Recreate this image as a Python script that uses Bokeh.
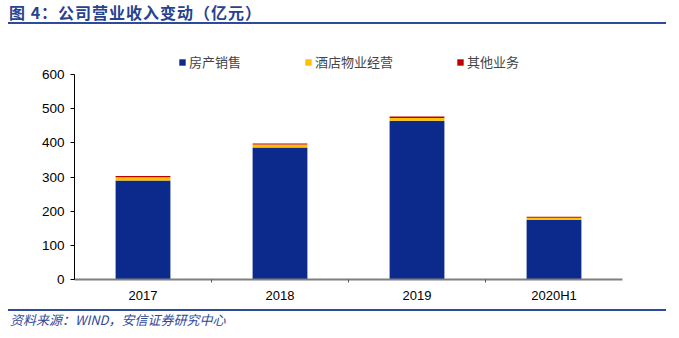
from bokeh.plotting import figure
from bokeh.models import (FixedTicker, LinearAxis, Legend, LegendItem, Range1d,
                          ColumnDataSource, Div)
from bokeh.layouts import column
from bokeh.embed import file_html
from bokeh.resources import INLINE

years = ["2017", "2018", "2019", "2020H1"]
property_sales = [290, 386, 465, 175]
hotel_ops = [9, 9, 8, 6]
other_biz = [4, 3, 4, 3]
series_names = ["房产销售", "酒店物业经营", "其他业务"]
y_ticks = [0, 100, 200, 300, 400, 500, 600]
y_max = 600

title_text = "图 4：公司营业收入变动（亿元）"
source_text = "资料来源：WIND，安信证券研究中心"

BLUE = "#0C2A8C"
YELLOW = "#FFC000"
RED = "#C00000"
LINE_BLUE = "#2E4A9A"
CJK = "Noto Sans CJK SC"

W = 679
TITLE_H, FIG_H, SRC_H = 30, 279, 29
TOP_B, BOT_B = 20, 30
frame_h = FIG_H - TOP_B - BOT_B          # 229 px
axis_px = 205                            # pixels used by 0..600
y_top = y_max * frame_h / axis_px        # room above 600 for the legend

xpos = [i + 0.5 for i in range(len(years))]
bounds_ticks = [float(i) for i in range(1, len(years))]
src = ColumnDataSource(dict(x=xpos, a=property_sales, b=hotel_ops, c=other_biz))

p = figure(width=W, height=FIG_H, output_backend="svg", toolbar_location=None,
           x_axis_type=None, y_axis_type=None,
           x_range=Range1d(0, len(years)), y_range=Range1d(0, y_top),
           min_border_left=74, min_border_right=57,
           min_border_top=TOP_B, min_border_bottom=BOT_B, margin=0)
p.outline_line_color = None
p.xgrid.visible = False
p.ygrid.visible = False
p.background_fill_color = "white"
p.border_fill_color = "white"

rs = p.vbar_stack(["a", "b", "c"], x="x", width=0.4, source=src,
                  color=[BLUE, YELLOW, RED], line_color=None)

# y axis
yax = LinearAxis(ticker=FixedTicker(ticks=y_ticks), bounds=(0, y_max))
yax.axis_line_color = "black"
yax.axis_line_width = 1
yax.major_tick_line_color = "black"
yax.major_tick_out = 4
yax.major_tick_in = 0
yax.minor_tick_line_color = None
yax.major_label_text_font = "Liberation Sans"
yax.major_label_text_font_size = "13.5px"
yax.major_label_text_color = "black"
yax.major_label_standoff = 6
p.add_layout(yax, "left")

# x axis: labels at category centres, small ticks at category boundaries
xax = LinearAxis(ticker=FixedTicker(ticks=xpos, minor_ticks=bounds_ticks),
                 major_label_overrides={x: y for x, y in zip(xpos, years)})
xax.axis_line_color = "#7F7F7F"
xax.axis_line_width = 2
xax.major_tick_line_color = None
xax.major_tick_out = 0
xax.major_tick_in = 0
xax.minor_tick_line_color = "#555555"
xax.minor_tick_out = 3
xax.minor_tick_in = 0
xax.major_label_text_font = "Liberation Sans"
xax.major_label_text_font_size = "13px"
xax.major_label_text_color = "black"
xax.major_label_standoff = 5
p.add_layout(xax, "below")

legend = Legend(items=[LegendItem(label=n, renderers=[r]) for n, r in zip(series_names, rs)],
                orientation="horizontal", location=(104, 208),
                glyph_width=8, glyph_height=8, label_standoff=3, spacing=63,
                padding=0, margin=0, label_height=14,
                label_text_font=CJK, label_text_font_size="13px",
                border_line_color=None, background_fill_alpha=0)
p.add_layout(legend)

title_div = Div(width=W, height=TITLE_H, margin=0, text=(
    f'<div style="margin-left:8px;width:658px;height:24px;'
    f'border-bottom:2px solid {LINE_BLUE};">'
    f'<div style="padding-left:1px;padding-top:2px;line-height:20px;'
    f"font-family:'{CJK}';font-weight:bold;font-size:16px;letter-spacing:1px;"
    f'color:#27428F;white-space:nowrap;">{title_text}</div></div>'))

source_div = Div(width=W, height=SRC_H, margin=0, text=(
    f'<div style="margin-left:8px;width:658px;border-top:2px solid {LINE_BLUE};">'
    f'<div style="padding-left:2px;padding-top:1px;line-height:16px;'
    f"font-family:'{CJK}';font-style:italic;font-size:13px;color:{LINE_BLUE};"
    f'white-space:nowrap;">{source_text}</div></div>'))

layout = column(title_div, p, source_div, spacing=0, margin=0)

open("out.html", "w").write(file_html(layout, INLINE))
